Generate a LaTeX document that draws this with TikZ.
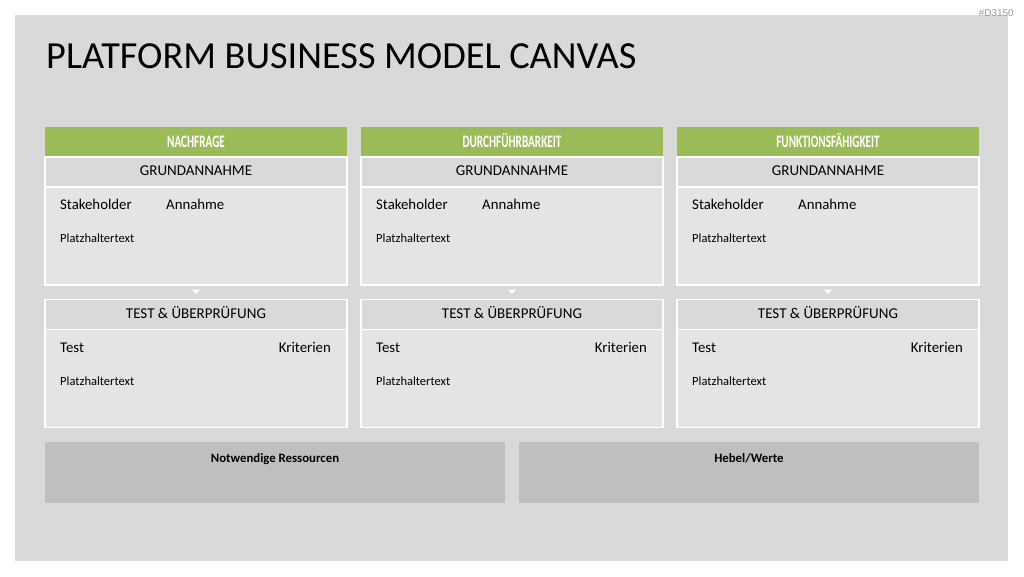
\documentclass[tikz,border=0pt]{standalone}
\usepackage{fontspec}
\setmainfont{Carlito}
\newfontfamily\headfont{Carlito}[FakeStretch=0.64]
\newfontfamily\tagfont{Liberation Sans}
\usetikzlibrary{positioning}
\definecolor{canvasgrey}{HTML}{D9D9D9}
\definecolor{bodygrey}{HTML}{E4E4E4}
\definecolor{boxgrey}{HTML}{BFBFBF}
\definecolor{headgreen}{HTML}{9BBB59}
\definecolor{taggrey}{HTML}{999999}
\tikzset{
  colhead/.style={rectangle, fill=headgreen, minimum width=302pt, minimum height=30pt, inner sep=0pt, text height=11pt, text depth=0pt, text=white, font=\headfont\bfseries\fontsize{17.5}{17.5}\selectfont},
  rowhead/.style={rectangle, draw=white, line width=1.2pt, fill=canvasgrey, minimum width=302pt, minimum height=30pt, inner sep=0pt, text height=10pt, text depth=2.5pt, font=\fontsize{15}{15}\selectfont},
  rowbody/.style={rectangle, draw=white, line width=1.2pt, fill=bodygrey, minimum width=302pt, minimum height=98pt},
  celltext/.style={inner sep=0pt, font=\fontsize{14.8}{14.8}\selectfont},
  smalltext/.style={inner sep=0pt, anchor=base west, font=\fontsize{12.5}{12.5}\selectfont},
  resbox/.style={rectangle, fill=boxgrey, minimum width=460pt, minimum height=61pt},
  restext/.style={inner sep=0pt, anchor=base, font=\bfseries\fontsize{12.8}{12.8}\selectfont}
}
\begin{document}
\begin{tikzpicture}[x=1pt, y=-1pt]
    \useasboundingbox (0,0) rectangle (1024,576);
    \fill[white] (0,0) rectangle (1024,576);
    \fill[canvasgrey] (15,15) rectangle (1008,561);

    % Titel
    \node[anchor=base west, inner sep=0pt, font=\fontsize{38.3}{38.3}\selectfont] (title) at (46,68) {PLATFORM BUSINESS MODEL CANVAS};
    \node[anchor=east, inner sep=0pt, text=taggrey, font=\tagfont\fontsize{10}{10}\selectfont] (tag) at (1014,13.5) {\#D3150};

    % Spalten
    \foreach \i/\x/\name in {1/196/NACHFRAGE, 2/512/DURCHFÜHRBARKEIT, 3/828/FUNKTIONSFÄHIGKEIT} {
        \node[colhead] (head\i) at (\x,141.5) {\name};

        \node[rowhead] (ga\i) at (\x,172) {GRUNDANNAHME};
        \node[rowbody] (gb\i) at (\x,236) {};
        \node[celltext, anchor=base west] (sh\i) at (\x-136,209) {Stakeholder};
        \node[celltext, anchor=base west] (an\i) at (\x-30,209) {Annahme};
        \node[smalltext] (pa\i) at (\x-136,242) {Platzhaltertext};

        \fill[white] (\x-4,289.5) -- (\x+4,289.5) -- (\x,294) -- cycle;

        \node[rowhead] (ta\i) at (\x,314.5) {TEST \& ÜBERPRÜFUNG};
        \node[rowbody] (tb\i) at (\x,378.5) {};
        \node[celltext, anchor=base west] (te\i) at (\x-136,352) {Test};
        \node[celltext, anchor=base east] (kr\i) at (\x+135,352) {Kriterien};
        \node[smalltext] (pb\i) at (\x-136,385) {Platzhaltertext};
    }

    % Ressourcen und Hebel
    \node[resbox] (res) at (275,472.5) {};
    \node[restext] (restitle) at (275,462) {Notwendige Ressourcen};
    \node[resbox] (hebel) at (749,472.5) {};
    \node[restext] (hebeltitle) at (749,462) {Hebel/Werte};
\end{tikzpicture}
\end{document}
